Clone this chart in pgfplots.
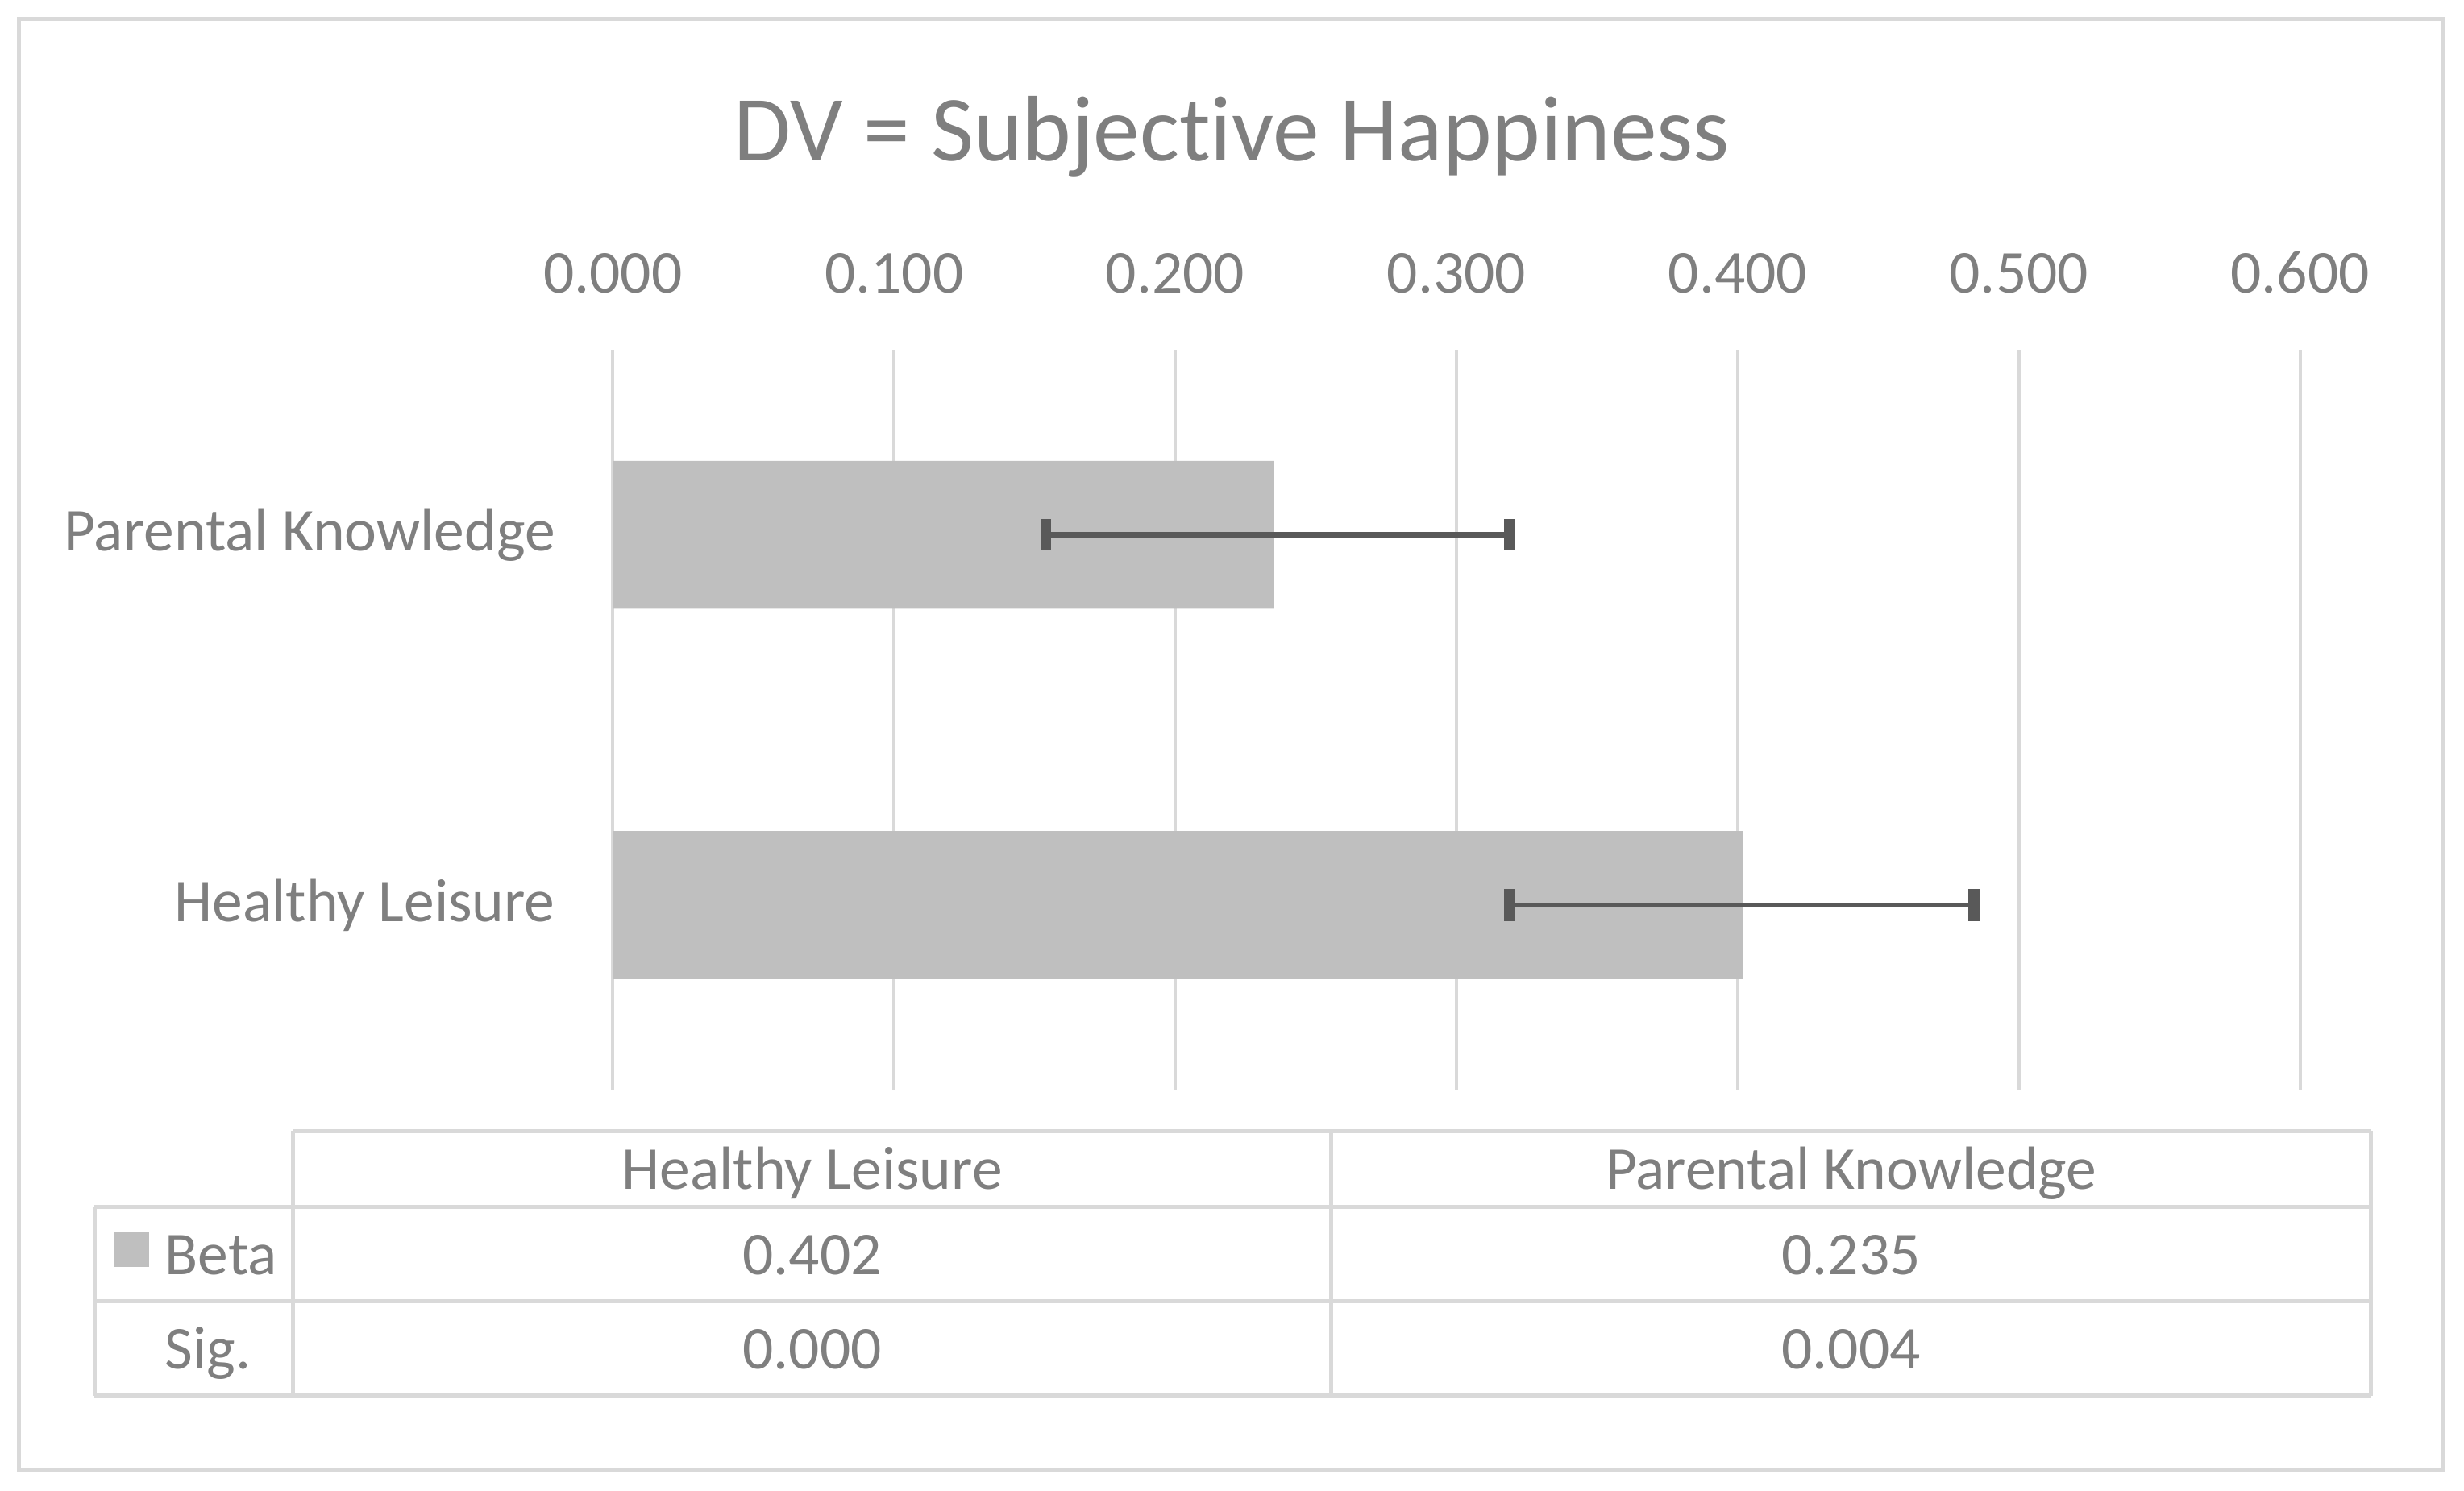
\documentclass[border=0pt]{standalone}
\usepackage{fontspec}
\setmainfont[Ligatures={NoCommon,NoContextual,NoRare}]{Carlito}
\usepackage{pgfplots}
\pgfplotsset{compat=1.18}

\definecolor{txt}{HTML}{7F7F7F}
\definecolor{gridc}{HTML}{D9D9D9}
\definecolor{barc}{HTML}{BFBFBF}
\definecolor{errc}{HTML}{595959}

\newcommand{\lbl}{\fontsize{11.0}{13.2}\selectfont}

\begin{document}
\begin{tikzpicture}
  % page size and chart frame
  \path (0,0) rectangle (156.4mm,-94.6mm);
  \draw[gridc, line width=0.25mm] (1.2mm,-1.2mm) rectangle (155.1mm,-93.3mm);

  \node[anchor=base, text=txt, font=\fontsize{16.8}{20}\selectfont]
    at (78.2mm,-10.2mm) {DV = Subjec\kern0pt tive Happiness};

  \begin{axis}[
      at={(38.9mm,-69.2mm)}, anchor=south west,
      scale only axis, width=107.1mm, height=47mm,
      xbar, bar width=9.4mm, bar shift=0pt,
      xmin=0, xmax=0.6, ymin=-0.5, ymax=1.5,
      xtick={0,0.1,0.2,0.3,0.4,0.5,0.6},
      xticklabels={0.000,0.100,0.200,0.300,0.400,0.500,0.600},
      xticklabel pos=upper,
      ytick={0,1},
      yticklabels={Healthy Leisure,Parental Knowledge},
      xmajorgrids,
      grid style={draw=gridc, line width=0.22mm},
      axis line style={draw=none},
      major tick length=0pt,
      tick label style={font=\lbl, text=txt},
      xticklabel style={anchor=base, inner sep=0pt, yshift=3.6mm},
      yticklabel style={anchor=east, inner sep=0pt, xshift=-3.6mm},
    ]
    \addplot[fill=barc, draw=none,
      error bars/.cd, x dir=both, x explicit, error mark=|,
      error bar style={line width=0.34mm, draw=errc},
      error mark options={line width=0.7mm, draw=errc, mark size=1mm}]
      coordinates {
        (0.402,0) += (0.082,0) -= (0.083,0)
        (0.235,1) += (0.084,0) -= (0.081,0)
      };
  \end{axis}

  % data table under the chart
  \begin{scope}[gridc, line width=0.25mm]
    \draw (18.6mm,-71.8mm) -- (150.5mm,-71.8mm);
    \draw (6.0mm,-76.6mm) -- (150.5mm,-76.6mm);
    \draw (6.0mm,-82.6mm) -- (150.5mm,-82.6mm);
    \draw (6.0mm,-88.6mm) -- (150.5mm,-88.6mm);
    \draw (6.0mm,-76.6mm) -- (6.0mm,-88.6mm);
    \draw (18.6mm,-71.8mm) -- (18.6mm,-88.6mm);
    \draw (84.5mm,-71.8mm) -- (84.5mm,-88.6mm);
    \draw (150.5mm,-71.8mm) -- (150.5mm,-88.6mm);
  \end{scope}
  \begin{scope}[every node/.style={text=txt, font=\lbl, inner sep=0pt}]
    \node[anchor=base] at (51.55mm,-75.5mm) {Healthy Leisure};
    \node[anchor=base] at (117.5mm,-75.5mm) {Parental Knowledge};
    \fill[barc] (7.25mm,-78.2mm) rectangle (9.45mm,-80.4mm);
    \node[anchor=base west] at (10.4mm,-80.9mm) {Beta};
    \node[anchor=base] at (51.55mm,-80.9mm) {0.402};
    \node[anchor=base] at (117.5mm,-80.9mm) {0.235};
    \node[anchor=base west] at (10.4mm,-86.9mm) {Sig.};
    \node[anchor=base] at (51.55mm,-86.9mm) {0.000};
    \node[anchor=base] at (117.5mm,-86.9mm) {0.004};
  \end{scope}
\end{tikzpicture}
\end{document}
